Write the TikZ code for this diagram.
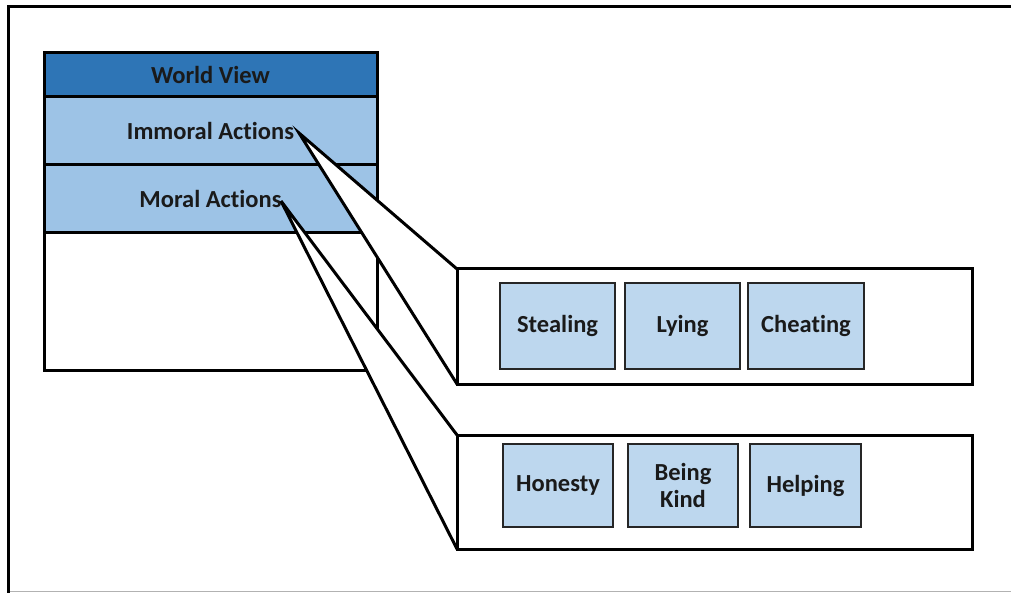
\documentclass[tikz,border=0pt]{standalone}
\usepackage{fontspec}
\setmainfont{Carlito}[Ligatures=NoCommon]
\definecolor{hdrblue}{HTML}{2E75B6}
\definecolor{rowblue}{HTML}{9DC3E6}
\definecolor{itemblue}{HTML}{BDD7EE}
\definecolor{txt}{HTML}{1A1A1A}
\begin{document}
\begin{tikzpicture}[x=1pt,y=-1pt,
  lbl/.style={font=\fontsize{24.5}{28}\selectfont\bfseries, text=txt},
  rowbox/.style={draw=black, line width=3pt, minimum width=333pt, inner sep=0pt, outer sep=0pt, lbl},
  panel/.style={draw=black, line width=3pt, fill=white, minimum width=515pt, inner sep=0pt, outer sep=0pt},
  item/.style={draw=black!85, line width=2.4pt, fill=itemblue, inner sep=0pt, outer sep=0pt, align=center, lbl},
  wedge/.style={fill=white},
  wedgeline/.style={draw=black, line width=3pt, line cap=round}]
\useasboundingbox (0,0) rectangle (1011,593);
\fill[white] (0,0) rectangle (1011,593);
% outer frame
\coordinate (ftr) at (1011,7);
\coordinate (ftl) at (8,7);
\coordinate (fbl) at (8,593);
\coordinate (fbr) at (1011,591.5);
\coordinate (fblg) at (8,591.5);
\draw[black!30, line width=1pt] (fblg) -- (fbr);
\draw[black, line width=3pt] (ftr) -- (ftl) -- (fbl);
% left stack
\node[rowbox, fill=white, minimum height=137pt] (blank) at (210.5,301.5) {};
\node[rowbox, fill=rowblue, minimum height=68pt] (moral) at (210.5,199) {Moral Actions};
\node[rowbox, fill=rowblue, minimum height=68pt] (immoral) at (210.5,131) {Immoral Actions};
\node[rowbox, fill=hdrblue, minimum height=44pt] (wv) at (210.5,75) {World View};
% right panels
\node[panel, minimum height=115pt] (pimm) at (714.5,326.5) {};
\node[panel, minimum height=114pt] (pmor) at (714.5,492) {};
% callout apexes
\coordinate (aimm) at (299,133);
\coordinate (amor) at (281,201);
% immoral wedge
\fill[wedge] (aimm) -- (pimm.north west) -- (pimm.south west) -- cycle;
\draw[wedgeline] (pimm.north west) -- (aimm) -- (pimm.south west);
% moral wedge
\fill[wedge] (amor) -- (pmor.north west) -- (pmor.south west) -- cycle;
\draw[wedgeline] (pmor.north west) -- (amor) -- (pmor.south west);
% redraw panel left edges over wedge fills
\draw[black, line width=3pt] (pimm.north west) -- (pimm.south west);
\draw[black, line width=3pt] (pmor.north west) -- (pmor.south west);
% items
\node[item, minimum width=115pt, minimum height=86pt] (steal) at (557.5,326) {Stealing};
\node[item, minimum width=115pt, minimum height=86pt] (lying) at (682.5,326) {Lying};
\node[item, minimum width=116pt, minimum height=86pt] (cheat) at (806,326) {Cheating};
\node[item, minimum width=110pt, minimum height=83pt] (hon) at (558,485.5) {Honesty};
\node[item, minimum width=110pt, minimum height=83pt] (kind) at (683,485.5) {Being\\[-1pt]Kind};
\node[item, minimum width=111pt, minimum height=83pt] (help) at (805.5,485.5) {Helping};
\end{tikzpicture}
\end{document}
